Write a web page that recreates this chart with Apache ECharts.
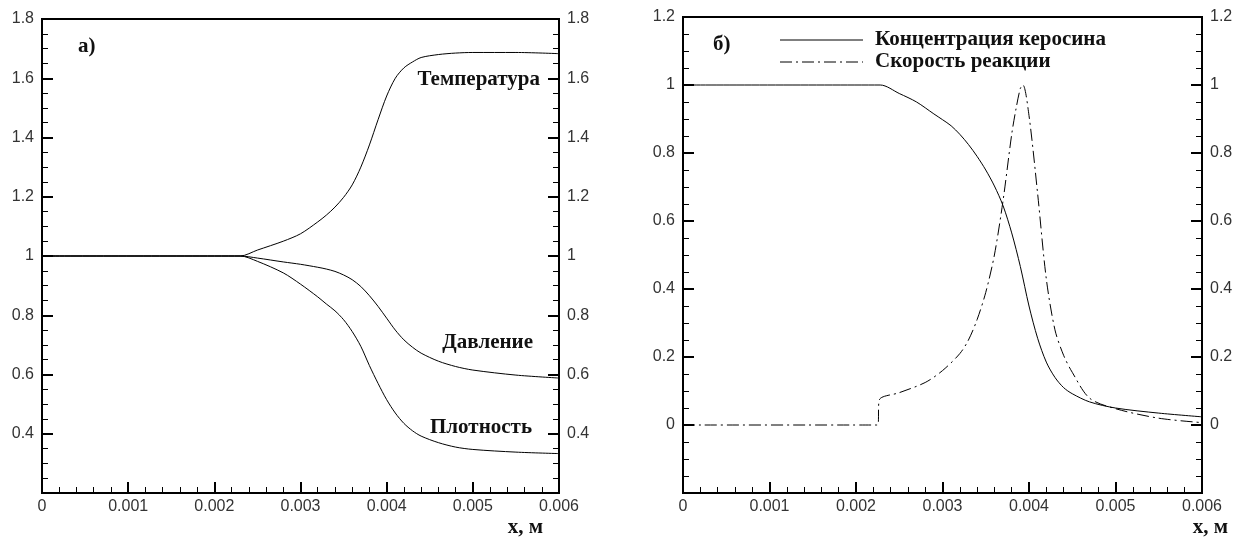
<!DOCTYPE html>
<html>
<head>
<meta charset="utf-8">
<script src="https://cdn.jsdelivr.net/npm/echarts@6/dist/echarts.min.js"></script>
<style>
  html, body { margin: 0; padding: 0; background: #fff; }
  #chart { width: 1239px; height: 540px; }
</style>
</head>
<body>
<div id="chart"></div>
<script>
// панель а) - температура, давление, плотность
const xA = [0, 0.0023, 0.0025, 0.0028, 0.003, 0.0032, 0.0033, 0.0034, 0.0035, 0.0036, 0.0037, 0.0038, 0.0039, 0.004, 0.0041, 0.0042, 0.0043, 0.0044, 0.0046, 0.0048, 0.005, 0.0055, 0.006];
const temperature = [1, 1, 1.02, 1.05, 1.075, 1.115, 1.138, 1.165, 1.198, 1.24, 1.3, 1.375, 1.46, 1.54, 1.6, 1.635, 1.655, 1.67, 1.68, 1.685, 1.687, 1.687, 1.683];
const pressure = [1, 1, 0.993, 0.98, 0.972, 0.962, 0.956, 0.948, 0.936, 0.92, 0.897, 0.866, 0.83, 0.79, 0.75, 0.717, 0.692, 0.672, 0.645, 0.627, 0.615, 0.598, 0.588];
const density = [1, 1, 0.982, 0.943, 0.905, 0.862, 0.838, 0.815, 0.785, 0.745, 0.695, 0.63, 0.57, 0.515, 0.47, 0.435, 0.41, 0.392, 0.37, 0.355, 0.347, 0.338, 0.333];

// панель б) - концентрация керосина и скорость реакции
const xConc = [0, 0.00228, 0.0025, 0.0027, 0.0029, 0.003, 0.0031, 0.0032, 0.0033, 0.0034, 0.0035, 0.0036, 0.0037, 0.0038, 0.0039, 0.004, 0.0041, 0.0042, 0.0043, 0.0044, 0.0045, 0.0047, 0.005, 0.0055, 0.006];
const concentration = [1, 1, 0.975, 0.95, 0.915, 0.898, 0.88, 0.855, 0.825, 0.79, 0.75, 0.703, 0.645, 0.565, 0.466, 0.35, 0.255, 0.185, 0.14, 0.11, 0.092, 0.068, 0.05, 0.035, 0.024];
const xRate = [0, 0.00225, 0.00227, 0.0025, 0.0028, 0.003, 0.0032, 0.0033, 0.0034, 0.0035, 0.0036, 0.0037, 0.0038, 0.00385, 0.0039, 0.00393, 0.004, 0.0041, 0.0042, 0.0043, 0.0044, 0.0045, 0.0047, 0.005, 0.0055, 0.006];
const rate = [0, 0, 0.074, 0.095, 0.125, 0.16, 0.21, 0.25, 0.31, 0.39, 0.5, 0.66, 0.855, 0.93, 0.99, 1.0, 0.91, 0.68, 0.43, 0.28, 0.205, 0.155, 0.079, 0.048, 0.02, 0.007];

const pair = (xs, ys) => xs.map((x, i) => [x, ys[i]]);

const labelFont = { fontFamily: 'Liberation Sans, Arial', fontSize: 16, color: '#333' };
const serifFont = 'bold 21px "Liberation Serif"';

function xAxisCfg(gi) {
  return {
    type: 'value', gridIndex: gi, min: 0, max: 0.006, interval: 0.001,
    axisLine: { onZero: false, lineStyle: { color: '#000', width: 2 } },
    axisTick: { inside: true, length: 11, lineStyle: { color: '#000', width: 2 } },
    minorTick: { show: true, splitNumber: 5, length: 6, lineStyle: { color: '#000', width: 1 } },
    splitLine: { show: false },
    axisLabel: Object.assign({ margin: 6 }, labelFont)
  };
}
function yAxisCfg(gi, min, max, pos) {
  return {
    type: 'value', gridIndex: gi, min: min, max: max, interval: 0.2, position: pos,
    axisLine: { show: true, onZero: false, lineStyle: { color: '#000', width: 2 } },
    axisTick: { show: true, inside: true, length: 11, lineStyle: { color: '#000', width: 2 } },
    minorTick: { show: true, splitNumber: 4, length: 6, lineStyle: { color: '#000', width: 1 } },
    splitLine: { show: false },
    axisLabel: Object.assign({ showMinLabel: false, margin: 8 }, labelFont)
  };
}
function line(xi, yi, data, dash) {
  return {
    type: 'line', xAxisIndex: xi, yAxisIndex: yi, data: data,
    showSymbol: false, smooth: 0.3,
    lineStyle: { color: '#000', width: 1, type: dash || 'solid' },
    animation: false
  };
}
function label(text, x, y, align) {
  return { type: 'text', x: x, y: y, style: { text: text, font: serifFont, fill: '#111', align: align || 'left', verticalAlign: 'middle' } };
}

const chart = echarts.init(document.getElementById('chart'));
chart.setOption({
  backgroundColor: '#fff',
  animation: false,
  grid: [
    { left: 42, right: 680, top: 19, bottom: 47, show: true, borderColor: '#000', borderWidth: 2 },
    { left: 683, right: 37, top: 17, bottom: 47, show: true, borderColor: '#000', borderWidth: 2 }
  ],
  xAxis: [xAxisCfg(0), xAxisCfg(1)],
  yAxis: [
    yAxisCfg(0, 0.2, 1.8, 'left'), yAxisCfg(0, 0.2, 1.8, 'right'),
    yAxisCfg(1, -0.2, 1.2, 'left'), yAxisCfg(1, -0.2, 1.2, 'right')
  ],
  series: [
    line(0, 0, pair(xA, temperature)),
    line(0, 0, pair(xA, pressure)),
    line(0, 0, pair(xA, density)),
    line(1, 2, pair(xConc, concentration)),
    line(1, 2, pair(xRate, rate), [12, 4, 2, 4])
  ],
  graphic: [
    label('а)', 78, 47),
    label('Температура', 540, 80, 'right'),
    label('Давление', 533, 343, 'right'),
    label('Плотность', 532, 428, 'right'),
    label('x, м', 543, 528, 'right'),
    label('б)', 713, 45),
    { type: 'line', shape: { x1: 780, y1: 40, x2: 863, y2: 40 }, style: { stroke: '#000', lineWidth: 1 } },
    { type: 'line', shape: { x1: 780, y1: 62, x2: 863, y2: 62 }, style: { stroke: '#000', lineWidth: 1, lineDash: [12, 4, 2, 4] } },
    label('Концентрация керосина', 875, 40),
    label('Скорость реакции', 875, 62),
    label('x, м', 1228, 528, 'right')
  ]
});
</script>
</body>
</html>
